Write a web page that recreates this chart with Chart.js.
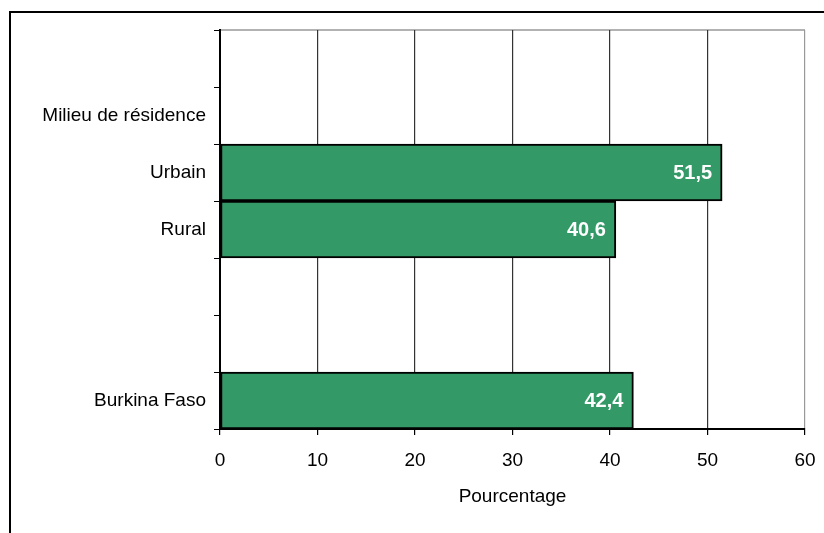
<!DOCTYPE html>
<html>
<head>
<meta charset="utf-8">
<script src="https://cdn.jsdelivr.net/npm/chart.js@4.4.1/dist/chart.umd.min.js"></script>
<style>
  html, body { margin: 0; padding: 0; background: #fff; }
  #wrap { position: relative; width: 824px; height: 533px; }
</style>
</head>
<body>
<div id="wrap"><canvas id="graphique"></canvas></div>
<script>
// donnees
const categories = ["", "Milieu de résidence", "Urbain", "Rural", "", "", "Burkina Faso"];
const pourcentages = [null, null, 51.5, 40.6, null, null, 42.4];
const xTicks = [0, 10, 20, 30, 40, 50, 60];

const police = "'Liberation Sans', Arial, sans-serif";

// cadre noir autour du graphique + bord haut de la zone de trace
const cadre = {
  id: "cadre",
  beforeDraw(chart) {
    const c = chart.ctx, a = chart.chartArea;
    c.save();
    c.strokeStyle = "#000";
    c.lineWidth = 2;
    c.beginPath();
    c.moveTo(10, 534);
    c.lineTo(10, 12);
    c.lineTo(826, 12);
    c.stroke();
    c.strokeStyle = "#999";
    c.lineWidth = 1.5;
    c.beginPath();
    c.moveTo(a.left, a.top);
    c.lineTo(a.right, a.top);
    c.stroke();
    c.restore();
  }
};

// valeurs en blanc a l'interieur des barres
const etiquettes = {
  id: "etiquettes",
  afterDatasetsDraw(chart) {
    const c = chart.ctx;
    const meta = chart.getDatasetMeta(0);
    c.save();
    c.font = "bold 20px " + police;
    c.fillStyle = "#fff";
    c.textAlign = "right";
    c.textBaseline = "middle";
    meta.data.forEach((bar, i) => {
      const v = pourcentages[i];
      if (v === null) return;
      c.fillText(v.toFixed(1).replace(".", ","), bar.x - 10, bar.y + 1);
    });
    c.restore();
  }
};

new Chart(document.getElementById("graphique"), {
  type: "bar",
  data: {
    labels: categories,
    datasets: [{
      data: pourcentages,
      backgroundColor: "#339966",
      borderColor: "#000",
      borderWidth: 2,
      borderSkipped: false,
      barPercentage: 1,
      categoryPercentage: 1
    }]
  },
  options: {
    indexAxis: "y",
    responsive: true,
    maintainAspectRatio: false,
    animation: false,
    layout: { padding: { top: 30, right: 19, left: 0, bottom: 0 } },
    plugins: {
      legend: { display: false },
      tooltip: { enabled: false }
    },
    scales: {
      x: {
        min: 0,
        max: 60,
        afterBuildTicks: (s) => { s.ticks = xTicks.map(v => ({ value: v })); },
        afterFit: (s) => { s.height = 104; s.paddingLeft = 0; s.paddingRight = 0; },
        grid: {
          color: (ctx) => ctx.tick && ctx.tick.value === 60 ? "#999" : "#333",
          lineWidth: 1.2,
          tickColor: "#000",
          tickLength: 6
        },
        border: { color: "#000", width: 2 },
        ticks: {
          color: "#000",
          padding: 14,
          font: { family: police, size: 19 }
        },
        title: {
          display: true,
          text: "Pourcentage",
          color: "#000",
          font: { family: police, size: 19 },
          padding: { top: 0, bottom: 25 }
        }
      },
      y: {
        afterFit: (s) => { s.width = 220; },
        grid: {
          drawOnChartArea: false,
          drawTicks: true,
          tickLength: 6,
          tickColor: "#000",
          offset: true
        },
        border: { color: "#000", width: 2 },
        ticks: {
          color: "#000",
          padding: 8,
          font: { family: police, size: 19 }
        }
      }
    }
  },
  plugins: [cadre, etiquettes]
});
</script>
</body>
</html>
